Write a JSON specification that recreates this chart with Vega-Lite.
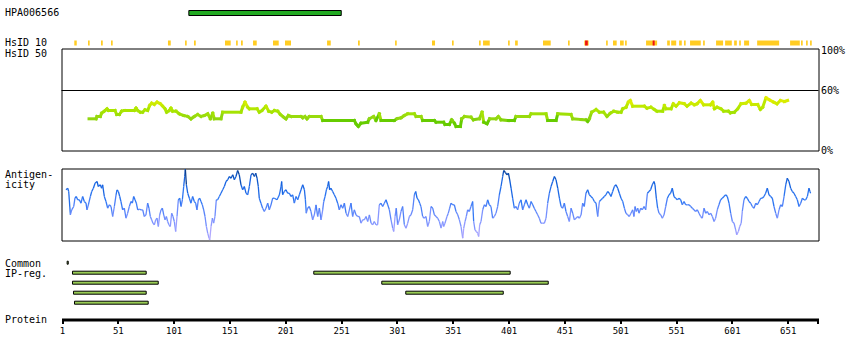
{
  "$schema": "https://vega.github.io/schema/vega-lite/v6.json",
  "padding": {"left": 3.5, "top": 0.5, "right": 0, "bottom": 0},
  "background": "white",
  "spacing": 0,
  "bounds": "flush",
  "config": {
    "view": {"stroke": null},
    "font": "DejaVu Sans Mono",
    "axis": {"labelFont": "DejaVu Sans Mono", "titleFont": "DejaVu Sans Mono", "labelColor": "black", "titleColor": "black", "titleFontWeight": "normal", "titleFontSize": 10, "labelFontSize": 10, "grid": false}
  },
  "vconcat": [
    {
      "width": 757,
      "height": 48,
      "layer": [
        {
          "data": {"values": [{"antibody": "HPA006566", "start": 114.6, "end": 251.1}]},
          "mark": {"type": "rect", "fill": "#22AA22", "stroke": "black", "strokeWidth": 1},
          "encoding": {
            "x": {"field": "start", "type": "quantitative", "scale": {"domain": [0.55, 678.55], "nice": false, "zero": false}, "axis": null},
            "x2": {"field": "end"},
            "y": {"field": "antibody", "type": "nominal", "scale": {"domain": ["HPA006566", "HsID 10"], "paddingInner": 0.8333, "paddingOuter": 0.2167, "align": 0.7692},
              "axis": {"title": null, "ticks": false, "tickSize": 0, "domain": false, "labelAlign": "left", "labelPadding": 57, "labelBaseline": "middle", "labelFontSize": 10}}
          }
        },
        {
          "data": {"values": [
            {"start": 12.0, "end": 14.2, "kind": "similar"}, {"start": 24.3, "end": 25.8, "kind": "similar"}, {"start": 35.9, "end": 37.5, "kind": "similar"},
            {"start": 44.9, "end": 46.4, "kind": "similar"}, {"start": 95.9, "end": 98.4, "kind": "similar"}, {"start": 111.2, "end": 112.7, "kind": "similar"},
            {"start": 119.2, "end": 120.8, "kind": "similar"}, {"start": 147.0, "end": 152.1, "kind": "similar"}, {"start": 156.9, "end": 158.4, "kind": "similar"},
            {"start": 161.3, "end": 162.9, "kind": "similar"}, {"start": 172.1, "end": 175.4, "kind": "similar"}, {"start": 190.0, "end": 195.1, "kind": "similar"},
            {"start": 200.7, "end": 206.1, "kind": "similar"}, {"start": 238.4, "end": 241.7, "kind": "similar"}, {"start": 266.1, "end": 267.7, "kind": "similar"},
            {"start": 299.3, "end": 300.8, "kind": "similar"}, {"start": 332.4, "end": 335.1, "kind": "similar"}, {"start": 350.3, "end": 351.8, "kind": "similar"},
            {"start": 374.5, "end": 376.0, "kind": "similar"}, {"start": 378.1, "end": 384.1, "kind": "similar"}, {"start": 400.5, "end": 402.0, "kind": "similar"},
            {"start": 406.8, "end": 409.2, "kind": "similar"}, {"start": 431.8, "end": 438.7, "kind": "similar"}, {"start": 454.2, "end": 455.7, "kind": "similar"},
            {"start": 468.8, "end": 472.7, "kind": "similar"}, {"start": 488.3, "end": 489.8, "kind": "similar"}, {"start": 494.5, "end": 497.8, "kind": "similar"},
            {"start": 500.8, "end": 504.1, "kind": "similar"}, {"start": 505.3, "end": 506.8, "kind": "similar"}, {"start": 524.1, "end": 534.0, "kind": "similar"},
            {"start": 543.0, "end": 545.4, "kind": "similar"}, {"start": 546.6, "end": 551.1, "kind": "similar"}, {"start": 553.7, "end": 556.1, "kind": "similar"},
            {"start": 558.1, "end": 559.6, "kind": "similar"}, {"start": 563.5, "end": 573.1, "kind": "similar"}, {"start": 575.2, "end": 576.7, "kind": "similar"},
            {"start": 586.8, "end": 593.1, "kind": "similar"}, {"start": 594.9, "end": 600.9, "kind": "similar"}, {"start": 603.0, "end": 605.4, "kind": "similar"},
            {"start": 607.5, "end": 609.0, "kind": "similar"}, {"start": 611.9, "end": 616.4, "kind": "similar"}, {"start": 623.6, "end": 643.3, "kind": "similar"},
            {"start": 653.1, "end": 661.8, "kind": "similar"}, {"start": 662.9, "end": 664.4, "kind": "similar"}, {"start": 667.4, "end": 668.9, "kind": "similar"},
            {"start": 671.0, "end": 672.5, "kind": "similar"},
            {"start": 469.5, "end": 471.9, "kind": "identical"}, {"start": 530.0, "end": 531.8, "kind": "identical"}
          ]},
          "mark": {"type": "rect"},
          "encoding": {
            "x": {"field": "start", "type": "quantitative", "scale": {"domain": [0.55, 678.55], "nice": false, "zero": false}, "axis": null},
            "x2": {"field": "end"},
            "y": {"datum": "HsID 10", "type": "nominal"},
            "color": {"field": "kind", "type": "nominal", "scale": {"domain": ["similar", "identical"], "range": ["#FFCC22", "#EE1111"]}, "legend": null}
          }
        }
      ]
    },
    {
      "width": 757,
      "height": 102,
      "view": {"stroke": "black", "strokeWidth": 1},
      "layer": [
        {
          "data": {"values": [{"threshold": 60}]},
          "mark": {"type": "rule", "color": "black", "strokeWidth": 1},
          "encoding": {
            "y": {"field": "threshold", "type": "quantitative", "scale": {"domain": [0, 102], "nice": false, "zero": false},
              "axis": {"orient": "left", "title": "HsID 50", "labels": false, "ticks": false, "tickSize": 0, "domain": false, "titleAngle": 0, "titleX": -57, "titleY": 8, "titleAlign": "left", "titleBaseline": "alphabetic"}}
          }
        },
        {
          "data": {"values": [
            {"pos":25.2,"identity":31.7},{"pos":31.5,"identity":31.7},{"pos":32.3,"identity":34},{"pos":35.3,"identity":34},{"pos":36.5,"identity":37.3},{"pos":38.9,"identity":39.3},{"pos":41.3,"identity":41.7},{"pos":42.5,"identity":40},{"pos":48.5,"identity":40},{"pos":50.0,"identity":36},{"pos":52.4,"identity":36},{"pos":54.4,"identity":39.3},{"pos":56.8,"identity":40},{"pos":65.8,"identity":40},{"pos":67.3,"identity":42.3},{"pos":68.8,"identity":40},{"pos":71.2,"identity":38.3},{"pos":73.2,"identity":38.3},{"pos":75.3,"identity":40.7},{"pos":77.7,"identity":40},{"pos":79.5,"identity":45},{"pos":81.3,"identity":47.3},{"pos":83.7,"identity":46},{"pos":86.1,"identity":48.3},{"pos":89.1,"identity":46.7},{"pos":91.2,"identity":44.3},{"pos":93.3,"identity":41.7},{"pos":94.7,"identity":38.3},{"pos":97.1,"identity":40},{"pos":98.6,"identity":42.3},{"pos":100.1,"identity":39.3},{"pos":103.1,"identity":39.3},{"pos":106.1,"identity":36.7},{"pos":110.0,"identity":35},{"pos":113.6,"identity":34},{"pos":116.5,"identity":31.7},{"pos":119.5,"identity":34},{"pos":122.5,"identity":36},{"pos":125.5,"identity":34},{"pos":128.5,"identity":35},{"pos":131.5,"identity":36.7},{"pos":133.9,"identity":31.7},{"pos":136.0,"identity":37.3},{"pos":137.4,"identity":31.7},{"pos":143.4,"identity":31.7},{"pos":144.9,"identity":38.3},{"pos":161.3,"identity":38.3},{"pos":162.8,"identity":43.3},{"pos":164.9,"identity":48.3},{"pos":167.3,"identity":43.3},{"pos":168.8,"identity":41.7},{"pos":175.7,"identity":41.7},{"pos":177.7,"identity":38.3},{"pos":180.1,"identity":40},{"pos":183.7,"identity":44.3},{"pos":186.1,"identity":39.3},{"pos":188.8,"identity":38.3},{"pos":191.2,"identity":40},{"pos":194.2,"identity":39.3},{"pos":196.6,"identity":36},{"pos":199.5,"identity":33.3},{"pos":201.6,"identity":31.7},{"pos":203.7,"identity":35},{"pos":206.1,"identity":34},{"pos":215.1,"identity":34},{"pos":216.6,"identity":32.7},{"pos":218.6,"identity":34},{"pos":220.4,"identity":31.7},{"pos":222.5,"identity":34},{"pos":233.0,"identity":34},{"pos":234.5,"identity":30},{"pos":262.8,"identity":30},{"pos":264.3,"identity":26.7},{"pos":266.4,"identity":24},{"pos":268.8,"identity":27.3},{"pos":274.8,"identity":28.3},{"pos":276.3,"identity":31.7},{"pos":280.1,"identity":34},{"pos":282.2,"identity":30},{"pos":285.2,"identity":36.7},{"pos":286.7,"identity":30},{"pos":298.6,"identity":30},{"pos":301.0,"identity":31.7},{"pos":304.6,"identity":32.7},{"pos":307.6,"identity":35},{"pos":310.6,"identity":36.7},{"pos":316.6,"identity":36.7},{"pos":318.1,"identity":34},{"pos":322.6,"identity":34},{"pos":324.0,"identity":30},{"pos":331.5,"identity":30},{"pos":334.5,"identity":30},{"pos":336.0,"identity":28.3},{"pos":342.8,"identity":28.3},{"pos":344.0,"identity":26},{"pos":347.9,"identity":26},{"pos":350.0,"identity":30.7},{"pos":352.4,"identity":27.3},{"pos":353.9,"identity":24},{"pos":357.8,"identity":24},{"pos":359.0,"identity":31.7},{"pos":361.4,"identity":34},{"pos":367.3,"identity":33.3},{"pos":369.4,"identity":30.7},{"pos":374.8,"identity":31.7},{"pos":377.2,"identity":38.3},{"pos":378.7,"identity":28.3},{"pos":381.7,"identity":26.7},{"pos":384.0,"identity":31.7},{"pos":389.7,"identity":31.7},{"pos":391.8,"identity":34},{"pos":394.2,"identity":30.7},{"pos":400.8,"identity":30},{"pos":406.1,"identity":30},{"pos":407.6,"identity":34},{"pos":419.6,"identity":34},{"pos":421.1,"identity":36.7},{"pos":434.5,"identity":36.7},{"pos":436.0,"identity":30},{"pos":443.5,"identity":30},{"pos":445.0,"identity":36.7},{"pos":456.9,"identity":36},{"pos":458.4,"identity":31.7},{"pos":465.9,"identity":31},{"pos":470.3,"identity":30.7},{"pos":471.8,"identity":29},{"pos":473.3,"identity":31.7},{"pos":475.4,"identity":38.3},{"pos":479.3,"identity":41},{"pos":482.3,"identity":38.3},{"pos":486.1,"identity":38.3},{"pos":489.1,"identity":34},{"pos":492.1,"identity":37.3},{"pos":495.1,"identity":39.3},{"pos":498.7,"identity":38.3},{"pos":501.7,"identity":38.3},{"pos":503.2,"identity":41.7},{"pos":506.2,"identity":43.3},{"pos":508.2,"identity":48.3},{"pos":510.0,"identity":50},{"pos":512.1,"identity":44.3},{"pos":522.6,"identity":44.3},{"pos":524.9,"identity":42.3},{"pos":528.5,"identity":43.3},{"pos":531.5,"identity":41},{"pos":533.9,"identity":39.3},{"pos":539.0,"identity":39.3},{"pos":540.5,"identity":45},{"pos":542.0,"identity":41.7},{"pos":546.5,"identity":41.7},{"pos":548.5,"identity":46.7},{"pos":551.0,"identity":44.3},{"pos":553.9,"identity":47.7},{"pos":558.4,"identity":46.7},{"pos":560.8,"identity":44.3},{"pos":564.4,"identity":47.3},{"pos":567.4,"identity":45.7},{"pos":569.7,"identity":46.7},{"pos":572.7,"identity":50},{"pos":575.7,"identity":45.7},{"pos":581.7,"identity":45.7},{"pos":583.8,"identity":48.3},{"pos":585.3,"identity":41.7},{"pos":587.7,"identity":43.3},{"pos":591.2,"identity":41.7},{"pos":593.6,"identity":39.3},{"pos":597.8,"identity":39.3},{"pos":599.6,"identity":37.7},{"pos":603.2,"identity":38.3},{"pos":606.2,"identity":41.7},{"pos":609.1,"identity":46.7},{"pos":613.6,"identity":47.3},{"pos":616.6,"identity":50},{"pos":618.7,"identity":46},{"pos":624.1,"identity":46},{"pos":626.5,"identity":41},{"pos":628.6,"identity":43.3},{"pos":631.5,"identity":52.7},{"pos":634.5,"identity":50.7},{"pos":638.4,"identity":48.3},{"pos":641.4,"identity":46.7},{"pos":644.4,"identity":50},{"pos":648.0,"identity":49},{"pos":650.9,"identity":50}
          ]},
          "transform": [
            {"window": [{"op": "lead", "field": "pos", "as": "pos2"}, {"op": "lead", "field": "identity", "as": "identity2"}], "sort": [{"field": "pos"}]},
            {"filter": "datum.pos2 != null"}
          ],
          "mark": {"type": "rule", "strokeWidth": 3, "strokeCap": "square"},
          "encoding": {
            "x": {"field": "pos", "type": "quantitative", "scale": {"domain": [0.55, 678.55], "nice": false, "zero": false}, "axis": null},
            "x2": {"field": "pos2"},
            "y": {"field": "identity", "type": "quantitative", "scale": {"domain": [0, 102], "nice": false, "zero": false},
              "axis": {"orient": "right", "title": null, "values": [0, 60, 100], "labelExpr": "datum.value + '%'", "ticks": false, "tickSize": 0, "domain": false, "labelPadding": 2, "labelAlign": "left", "labelBaseline": "middle", "labelFontSize": 10, "labelOverlap": false, "labelFlush": false}},
            "y2": {"field": "identity2"},
            "color": {"field": "identity", "type": "quantitative", "scale": {"domain": [30, 31, 40, 52], "range": ["#66CC00", "#8FD610", "#AAE600", "#E6EE00"], "clamp": true}, "legend": null}
          }
        }
      ],
      "resolve": {"axis": {"y": "independent"}}
    },
    {
      "width": 757,
      "height": 18,
      "data": {"values": []},
      "mark": {"type": "point", "opacity": 0}
    },
    {
      "width": 757,
      "height": 72,
      "view": {"stroke": "black", "strokeWidth": 1},
      "data": {"values": [
        {"pos":4.6,"score":50.7},{"pos":6.1,"score":52.3},{"pos":7.0,"score":49},{"pos":8.5,"score":25.7},{"pos":9.7,"score":30.7},{"pos":11.5,"score":34},{"pos":12.6,"score":42.3},{"pos":13.8,"score":44},{"pos":15.0,"score":40.7},{"pos":16.5,"score":40.7},{"pos":18.0,"score":37.3},{"pos":19.5,"score":44},{"pos":21.0,"score":39},{"pos":22.5,"score":37.3},{"pos":23.4,"score":30.7},{"pos":24.6,"score":35.7},{"pos":26.4,"score":44},{"pos":27.6,"score":49},{"pos":29.1,"score":52.3},{"pos":30.6,"score":57.3},{"pos":32.4,"score":59},{"pos":33.5,"score":54},{"pos":35.3,"score":55.7},{"pos":36.5,"score":52.3},{"pos":37.4,"score":55.7},{"pos":38.9,"score":44},{"pos":40.4,"score":39},{"pos":41.9,"score":32.3},{"pos":43.4,"score":35.7},{"pos":44.9,"score":34},{"pos":46.4,"score":24},{"pos":47.9,"score":34},{"pos":49.4,"score":45.7},{"pos":50.3,"score":50.7},{"pos":51.5,"score":49},{"pos":52.7,"score":44},{"pos":53.8,"score":39},{"pos":55.3,"score":30.7},{"pos":56.8,"score":32.3},{"pos":58.3,"score":22.3},{"pos":59.8,"score":27.3},{"pos":61.3,"score":34},{"pos":62.8,"score":39},{"pos":64.0,"score":37.3},{"pos":65.2,"score":44},{"pos":66.4,"score":40.7},{"pos":67.6,"score":37.3},{"pos":68.8,"score":30.7},{"pos":70.3,"score":31.3},{"pos":71.8,"score":30.7},{"pos":73.3,"score":30.7},{"pos":74.7,"score":24},{"pos":76.2,"score":25.7},{"pos":77.7,"score":37.3},{"pos":78.9,"score":32.3},{"pos":80.1,"score":24},{"pos":81.3,"score":20.7},{"pos":82.5,"score":17.3},{"pos":83.7,"score":15.7},{"pos":84.9,"score":20.7},{"pos":86.1,"score":22.3},{"pos":87.3,"score":14},{"pos":88.5,"score":25.7},{"pos":89.7,"score":30.7},{"pos":90.9,"score":32.3},{"pos":92.1,"score":25.7},{"pos":93.3,"score":20.7},{"pos":94.5,"score":24},{"pos":95.6,"score":19},{"pos":96.8,"score":15.7},{"pos":98.0,"score":14},{"pos":99.2,"score":27.3},{"pos":100.4,"score":24},{"pos":101.6,"score":19},{"pos":102.8,"score":9},{"pos":104.0,"score":24},{"pos":105.2,"score":40.7},{"pos":106.4,"score":42.3},{"pos":107.6,"score":34},{"pos":108.8,"score":40.7},{"pos":110.0,"score":54},{"pos":110.9,"score":64},{"pos":111.5,"score":71.3},{"pos":112.4,"score":55.7},{"pos":113.6,"score":47.3},{"pos":115.1,"score":42.3},{"pos":116.5,"score":37.3},{"pos":118.0,"score":44},{"pos":119.5,"score":39},{"pos":120.7,"score":37.3},{"pos":121.9,"score":30.7},{"pos":123.1,"score":40.7},{"pos":124.3,"score":42.3},{"pos":125.5,"score":39},{"pos":126.7,"score":35.7},{"pos":127.9,"score":30.7},{"pos":129.1,"score":24},{"pos":130.3,"score":14},{"pos":131.5,"score":7.3},{"pos":132.7,"score":2.3},{"pos":133.3,"score":0.5},{"pos":134.5,"score":14},{"pos":135.7,"score":22.3},{"pos":136.8,"score":17.3},{"pos":138.0,"score":24},{"pos":139.2,"score":40.7},{"pos":140.4,"score":40.7},{"pos":141.9,"score":44},{"pos":143.4,"score":47.3},{"pos":144.9,"score":50.7},{"pos":146.4,"score":54},{"pos":147.9,"score":59},{"pos":149.4,"score":60.7},{"pos":150.9,"score":64},{"pos":152.4,"score":62.3},{"pos":153.9,"score":65.7},{"pos":155.4,"score":60.7},{"pos":156.8,"score":64},{"pos":158.3,"score":70},{"pos":159.8,"score":65.7},{"pos":161.3,"score":55.7},{"pos":162.8,"score":50.7},{"pos":164.3,"score":54},{"pos":165.8,"score":47.3},{"pos":167.3,"score":45.7},{"pos":168.8,"score":54},
        {"pos":170.3,"score":65.7},{"pos":171.8,"score":67.3},{"pos":173.3,"score":64},{"pos":174.5,"score":67.3},{"pos":175.7,"score":62.3},{"pos":176.8,"score":54},{"pos":177.7,"score":42.3},{"pos":179.2,"score":37.3},{"pos":180.7,"score":32.3},{"pos":182.2,"score":29},{"pos":183.7,"score":32.3},{"pos":185.2,"score":37.3},{"pos":186.7,"score":30.7},{"pos":188.2,"score":35.7},{"pos":189.7,"score":42.3},{"pos":191.2,"score":42.3},{"pos":193.6,"score":40.7},{"pos":195.7,"score":45.7},{"pos":197.2,"score":54},{"pos":197.7,"score":59},{"pos":198.6,"score":45.7},{"pos":200.1,"score":49},{"pos":201.6,"score":50.7},{"pos":203.1,"score":47.3},{"pos":204.6,"score":47.3},{"pos":206.1,"score":44},{"pos":207.6,"score":45.7},{"pos":209.1,"score":37.3},{"pos":210.6,"score":44},{"pos":212.1,"score":40.7},{"pos":213.6,"score":45.7},{"pos":215.1,"score":50.7},{"pos":216.6,"score":55.7},{"pos":218.1,"score":50.7},{"pos":219.0,"score":40.7},{"pos":219.8,"score":27.3},{"pos":221.0,"score":32.3},{"pos":222.5,"score":34},{"pos":224.0,"score":29},{"pos":225.5,"score":20.7},{"pos":227.0,"score":25.7},{"pos":228.5,"score":35.7},{"pos":230.0,"score":24},{"pos":231.5,"score":32.3},{"pos":233.0,"score":20.7},{"pos":234.5,"score":30.7},{"pos":235.4,"score":39},{"pos":236.6,"score":44},{"pos":237.8,"score":50.7},{"pos":238.9,"score":54},{"pos":239.8,"score":59},{"pos":240.7,"score":50.7},{"pos":241.9,"score":52.3},{"pos":243.4,"score":49},{"pos":244.9,"score":45.7},{"pos":246.4,"score":42.3},{"pos":247.9,"score":37.3},{"pos":249.4,"score":30.7},{"pos":250.9,"score":35.7},{"pos":252.4,"score":32.3},{"pos":253.9,"score":37.3},{"pos":255.4,"score":27.3},{"pos":256.9,"score":24},{"pos":258.4,"score":30.7},{"pos":259.8,"score":37.3},{"pos":261.3,"score":24},{"pos":262.8,"score":30.7},{"pos":264.3,"score":25.7},{"pos":265.8,"score":24},{"pos":267.3,"score":24},{"pos":268.8,"score":17.3},{"pos":270.3,"score":20.7},{"pos":271.8,"score":20.7},{"pos":273.3,"score":24},{"pos":274.8,"score":19},{"pos":276.3,"score":25.7},{"pos":277.8,"score":17.3},{"pos":279.3,"score":15.7},{"pos":280.7,"score":19},{"pos":282.2,"score":15.7},{"pos":283.7,"score":15.7},{"pos":285.2,"score":35.7},{"pos":286.7,"score":37.3},{"pos":288.2,"score":34},{"pos":289.7,"score":37.3},{"pos":291.2,"score":40.7},{"pos":292.7,"score":35.7},{"pos":294.2,"score":30.7},{"pos":295.7,"score":20.7},{"pos":297.2,"score":12.3},{"pos":298.1,"score":9},{"pos":299.3,"score":24},{"pos":300.4,"score":32.3},{"pos":301.6,"score":15.7},{"pos":303.1,"score":20.7},{"pos":304.6,"score":29},{"pos":306.1,"score":34},{"pos":307.6,"score":15.7},{"pos":309.1,"score":12.3},{"pos":310.6,"score":17.3},{"pos":312.1,"score":24},{"pos":313.6,"score":25.7},{"pos":315.1,"score":30.7},{"pos":316.6,"score":45.7},{"pos":317.8,"score":49},{"pos":319.0,"score":42.3},{"pos":320.2,"score":40.7},{"pos":321.4,"score":37.3},{"pos":322.5,"score":34},{"pos":324.0,"score":24},{"pos":325.5,"score":22.3},{"pos":327.0,"score":24},{"pos":328.5,"score":14},{"pos":330.0,"score":19},{"pos":331.5,"score":34},{"pos":333.0,"score":32.3},{"pos":334.5,"score":25.7},{"pos":336.0,"score":24},{"pos":337.5,"score":22.3},{"pos":339.0,"score":19},{"pos":340.5,"score":12.3},{"pos":342.0,"score":19},
        {"pos":342.8,"score":14},{"pos":344.0,"score":17.3},{"pos":345.8,"score":24},{"pos":347.0,"score":27.3},{"pos":348.2,"score":32.3},{"pos":349.4,"score":37.3},{"pos":350.9,"score":35.7},{"pos":352.4,"score":35.7},{"pos":353.9,"score":29},{"pos":355.4,"score":25.7},{"pos":356.9,"score":20.7},{"pos":358.4,"score":14},{"pos":359.9,"score":2.3},{"pos":360.8,"score":12.3},{"pos":362.0,"score":19},{"pos":363.1,"score":24},{"pos":364.3,"score":30.7},{"pos":365.8,"score":29},{"pos":367.3,"score":34},{"pos":368.8,"score":39},{"pos":369.7,"score":19},{"pos":370.9,"score":10.7},{"pos":372.1,"score":9},{"pos":373.3,"score":7.3},{"pos":374.2,"score":4},{"pos":375.1,"score":15.7},{"pos":376.3,"score":19},{"pos":377.8,"score":30.7},{"pos":379.3,"score":35.7},{"pos":380.8,"score":34},{"pos":382.2,"score":40.7},{"pos":383.7,"score":35.7},{"pos":385.2,"score":34},{"pos":386.7,"score":22.3},{"pos":388.2,"score":24},{"pos":389.7,"score":27.3},{"pos":391.2,"score":34},{"pos":392.7,"score":45.7},{"pos":394.2,"score":54},{"pos":395.7,"score":64},{"pos":396.6,"score":70},{"pos":398.1,"score":68},{"pos":399.6,"score":65.7},{"pos":400.8,"score":67.3},{"pos":402.0,"score":60.7},{"pos":403.2,"score":52.3},{"pos":404.6,"score":42.3},{"pos":406.1,"score":32.3},{"pos":407.6,"score":34},{"pos":409.1,"score":30.7},{"pos":410.6,"score":37.3},{"pos":412.1,"score":40.7},{"pos":413.6,"score":30.7},{"pos":415.1,"score":35.7},{"pos":416.6,"score":40.7},{"pos":418.1,"score":35.7},{"pos":419.6,"score":32.3},{"pos":421.1,"score":39},{"pos":422.6,"score":35.7},{"pos":424.0,"score":32.3},{"pos":425.5,"score":29},{"pos":427.0,"score":25.7},{"pos":428.5,"score":22.3},{"pos":430.0,"score":17.3},{"pos":431.5,"score":17.3},{"pos":433.0,"score":17.3},{"pos":434.5,"score":22.3},{"pos":436.0,"score":37.3},{"pos":437.5,"score":47.3},{"pos":439.0,"score":54},{"pos":440.5,"score":59},{"pos":442.0,"score":64},{"pos":443.5,"score":60.7},{"pos":445.0,"score":52.3},{"pos":446.5,"score":42.3},{"pos":448.0,"score":34},{"pos":449.4,"score":32.3},{"pos":450.9,"score":37.3},{"pos":452.4,"score":29},{"pos":453.9,"score":24},{"pos":455.4,"score":19},{"pos":456.9,"score":32.3},{"pos":458.4,"score":27.3},{"pos":459.9,"score":20.7},{"pos":461.4,"score":22.3},{"pos":462.9,"score":24},{"pos":464.4,"score":22.3},{"pos":465.9,"score":25.7},{"pos":467.3,"score":37.3},{"pos":468.8,"score":34},{"pos":470.3,"score":47.3},{"pos":471.8,"score":50.7},{"pos":473.3,"score":45.7},{"pos":474.8,"score":44},{"pos":476.3,"score":42.3},{"pos":477.8,"score":39},{"pos":479.3,"score":37.3},{"pos":480.8,"score":24},{"pos":482.3,"score":39},{"pos":483.8,"score":40.7},{"pos":485.2,"score":42.3},{"pos":486.7,"score":44},{"pos":488.2,"score":45.7},{"pos":489.7,"score":49},{"pos":491.2,"score":47.3},{"pos":492.7,"score":44},{"pos":494.2,"score":49},{"pos":495.7,"score":54},{"pos":497.2,"score":55.7},{"pos":498.7,"score":52.3},{"pos":500.2,"score":47.3},{"pos":501.7,"score":42.3},{"pos":503.2,"score":39},{"pos":504.7,"score":32.3},{"pos":506.1,"score":27.3},{"pos":507.6,"score":25.7},{"pos":509.1,"score":24},{"pos":510.6,"score":27.3},{"pos":512.1,"score":30.7},
        {"pos":513.3,"score":24},{"pos":514.2,"score":34},{"pos":515.4,"score":29},{"pos":516.6,"score":32.3},{"pos":517.8,"score":27.3},{"pos":519.3,"score":32.3},{"pos":520.8,"score":30.7},{"pos":522.3,"score":34},{"pos":523.8,"score":30.7},{"pos":525.3,"score":47.3},{"pos":526.7,"score":49},{"pos":528.2,"score":50.7},{"pos":529.7,"score":55.7},{"pos":531.2,"score":59},{"pos":532.1,"score":55.7},{"pos":533.3,"score":42.3},{"pos":534.5,"score":32.3},{"pos":535.7,"score":27.3},{"pos":537.2,"score":25.7},{"pos":538.7,"score":22.3},{"pos":540.2,"score":25.7},{"pos":541.7,"score":34},{"pos":543.2,"score":42.3},{"pos":544.7,"score":45.7},{"pos":546.1,"score":47.3},{"pos":547.6,"score":52.3},{"pos":549.1,"score":44},{"pos":550.6,"score":42.3},{"pos":552.1,"score":40.7},{"pos":553.6,"score":42.3},{"pos":555.1,"score":40.7},{"pos":556.6,"score":35.7},{"pos":558.1,"score":39},{"pos":559.6,"score":35.7},{"pos":561.1,"score":35.7},{"pos":562.6,"score":35.7},{"pos":564.1,"score":34},{"pos":565.6,"score":32.3},{"pos":567.0,"score":30.7},{"pos":568.5,"score":29},{"pos":570.0,"score":30.7},{"pos":571.5,"score":27.3},{"pos":573.0,"score":24},{"pos":574.5,"score":22.3},{"pos":576.0,"score":32.3},{"pos":577.5,"score":27.3},{"pos":579.0,"score":29},{"pos":580.5,"score":25.7},{"pos":582.0,"score":27.3},{"pos":583.5,"score":24},{"pos":585.0,"score":19},{"pos":586.4,"score":22.3},{"pos":587.9,"score":30.7},{"pos":589.4,"score":35.7},{"pos":590.9,"score":40.7},{"pos":592.4,"score":42.3},{"pos":593.9,"score":44},{"pos":595.4,"score":45.7},{"pos":596.9,"score":44},{"pos":598.4,"score":37.3},{"pos":599.9,"score":27.3},{"pos":601.4,"score":19},{"pos":602.9,"score":17.3},{"pos":604.4,"score":10.7},{"pos":605.3,"score":5.7},{"pos":606.8,"score":9},{"pos":608.0,"score":14},{"pos":609.3,"score":17.3},{"pos":610.3,"score":29},{"pos":611.8,"score":40.7},{"pos":613.3,"score":44},{"pos":614.8,"score":42.3},{"pos":616.3,"score":39},{"pos":617.8,"score":37.3},{"pos":619.3,"score":34},{"pos":620.8,"score":32.3},{"pos":622.3,"score":37.3},{"pos":623.8,"score":35.7},{"pos":625.3,"score":39},{"pos":626.8,"score":42.3},{"pos":628.2,"score":42.3},{"pos":629.7,"score":44},{"pos":631.2,"score":47.3},{"pos":632.7,"score":52.3},{"pos":634.2,"score":45.7},{"pos":635.7,"score":44},{"pos":637.2,"score":42.3},{"pos":638.7,"score":34},{"pos":640.2,"score":27.3},{"pos":641.7,"score":22.3},{"pos":643.2,"score":30.7},{"pos":644.7,"score":35.7},{"pos":646.2,"score":34},{"pos":647.7,"score":44},{"pos":649.2,"score":55.7},{"pos":650.6,"score":62.3},{"pos":652.1,"score":59},{"pos":653.6,"score":52.3},{"pos":655.1,"score":49},{"pos":656.6,"score":47.3},{"pos":658.1,"score":44},{"pos":659.6,"score":40.7},{"pos":661.1,"score":34},{"pos":662.6,"score":37.3},{"pos":664.1,"score":42.3},{"pos":665.6,"score":40.7},{"pos":667.1,"score":40.7},{"pos":668.6,"score":44},{"pos":670.0,"score":52.3},{"pos":670.9,"score":49},{"pos":671.5,"score":47.3}
      ]},
      "transform": [
        {"window": [{"op": "lead", "field": "pos", "as": "pos2"}, {"op": "lead", "field": "score", "as": "score2"}], "sort": [{"field": "pos"}]},
        {"filter": "datum.pos2 != null"}
      ],
      "mark": {"type": "rule", "strokeWidth": 1.3},
      "encoding": {
        "x": {"field": "pos", "type": "quantitative", "scale": {"domain": [0.55, 678.55], "nice": false, "zero": false}, "axis": null},
        "x2": {"field": "pos2"},
        "y": {"field": "score", "type": "quantitative", "scale": {"domain": [0, 72], "nice": false, "zero": false},
          "axis": {"orient": "left", "title": ["Antigen-", "icity"], "labels": false, "ticks": false, "tickSize": 0, "domain": false, "titleAngle": 0, "titleX": -57, "titleY": 8.5, "titleAlign": "left", "titleBaseline": "alphabetic", "titleLineHeight": 10}},
        "y2": {"field": "score2"},
        "color": {"field": "score", "type": "quantitative", "scale": {"domain": [0, 20, 40, 60, 72], "range": ["#B0A8FF", "#7B93FF", "#2E78F5", "#0F5FDD", "#0A3C8C"], "clamp": true}, "legend": null}
      }
    },
    {
      "width": 757,
      "height": 18,
      "data": {"values": []},
      "mark": {"type": "point", "opacity": 0}
    },
    {
      "width": 757,
      "height": 61,
      "data": {"values": [
        {"row": 0, "start": 5.6, "end": 6.6},
        {"row": 1, "start": 10.4, "end": 76.4}, {"row": 1, "start": 226.5, "end": 402.4},
        {"row": 2, "start": 10.4, "end": 87.2}, {"row": 2, "start": 287.4, "end": 436.5},
        {"row": 3, "start": 11.3, "end": 76.4}, {"row": 3, "start": 308.9, "end": 396.2},
        {"row": 4, "start": 12.2, "end": 78.2}
      ]},
      "mark": {"type": "rect", "fill": "#99CC55", "stroke": "black", "strokeWidth": 1},
      "encoding": {
        "x": {"field": "start", "type": "quantitative", "scale": {"domain": [0.55, 678.55], "nice": false, "zero": false},
          "axis": {"orient": "bottom", "values": [1, 51, 101, 151, 201, 251, 301, 351, 401, 451, 501, 551, 601, 651, 678], "format": "d", "labelExpr": "datum.value == 678 ? '' : datum.label", "domainColor": "black", "domainWidth": 3, "tickColor": "black", "tickWidth": 2, "tickSize": 4, "labelFontSize": 9, "labelPadding": 3, "labelFlush": false, "labelOverlap": false, "title": "Protein", "titleAngle": 0, "titleX": -57, "titleY": 3, "titleAlign": "left", "titleBaseline": "alphabetic", "titleFontSize": 10}},
        "x2": {"field": "end"},
        "y": {"field": "row", "type": "ordinal", "scale": {"domain": [0, 1, 2, 3, 4], "paddingInner": 0.7, "paddingOuter": 0.9, "align": 0.15},
          "axis": {"title": ["Common", "IP-reg."], "labels": false, "ticks": false, "tickSize": 0, "domain": false, "titleAngle": 0, "titleX": -57, "titleY": 8, "titleAlign": "left", "titleBaseline": "alphabetic", "titleLineHeight": 10}}
      }
    }
  ]
}
